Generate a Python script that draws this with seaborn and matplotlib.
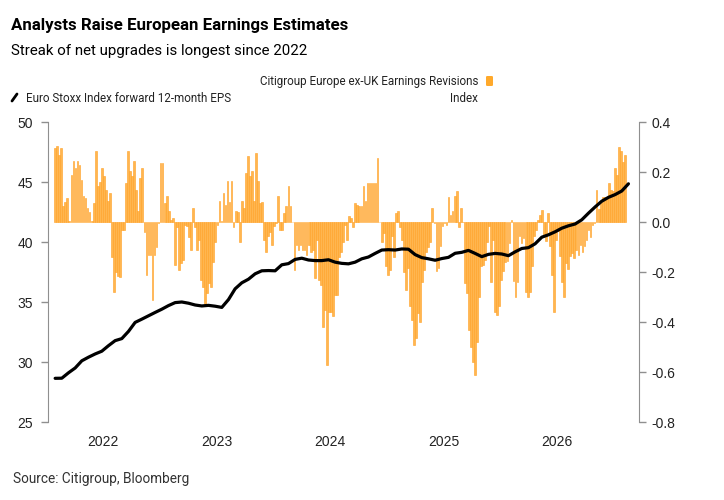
import matplotlib
matplotlib.use("Agg")
import matplotlib.pyplot as plt
import matplotlib.dates as mdates
from matplotlib import font_manager
from matplotlib.lines import Line2D
from matplotlib.patches import FancyBboxPatch
import pandas as pd
import seaborn as sns

# Citigroup Europe ex-UK earnings revisions index (weekly bars, right axis)
revisions = [
    0.295, 0.305, 0.27, 0.295, 0.065, 0.08, 0.095, 0.005, 0.19, 0.245, 0.215, 0.245, 0.23, 0.17,
    0.105, 0.095, 0.055, 0.04, 0.005, 0.075, 0.285, 0.145, 0.16, 0.215, 0.185, 0.13, 0.085, 0.115,
    -0.14, -0.28, -0.2, -0.215, -0.22, -0.03, -0.03,
    0.155, 0.285, 0.205, 0.185, 0.245, 0.13, 0.045, 0.175, 0.215,
    -0.04, -0.21, -0.13, -0.13, -0.31, -0.13, -0.1, -0.005,
    0.235, 0.235, 0.075, 0.105, 0.045, 0.01, 0.015,
    -0.17, -0.02, -0.19, -0.165, -0.15, -0.01, -0.015, -0.06, -0.11,
    0.055, -0.02, -0.11, -0.07, -0.23, -0.26, -0.33, -0.285, -0.245, -0.26, -0.16, -0.08, -0.01,
    0.085, 0.005, 0.115, 0.07, 0.165, 0.08, 0.165, -0.02, 0.045, 0.04, -0.08, 0.085, 0.055, 0.195,
    0.265, 0.185, 0.205, 0.085, 0.275, 0.165, 0.075, 0.08,
    -0.07, -0.12,
    -0.055, -0.04, -0.09, -0.015, -0.005, 0.105, -0.03, -0.03, 0.035, 0.065, 0.145, 0.065, 0.0,
    -0.19, -0.09, -0.11, -0.09, -0.11, -0.11, -0.13, -0.09, -0.12, -0.11, -0.225, -0.07, -0.23,
    -0.25, -0.42, -0.35, -0.57, -0.36, -0.36, -0.375, -0.29, -0.29, -0.14, -0.12, -0.08,
    -0.01, -0.07, 0.025, 0.015, -0.02, 0.075, 0.07, 0.065, 0.065, 0.145, 0.085, 0.155, 0.155, 0.155,
    0.155, 0.155, 0.255, 0.0,
    -0.08, -0.045, -0.175, -0.21, -0.19, -0.055, -0.14, 0.035, 0.045, -0.02, -0.07, -0.2, -0.27,
    -0.185, -0.335, -0.39, -0.49, -0.465, -0.365, -0.4,
    -0.24, -0.19, -0.12, -0.1, -0.08, 0.055, -0.005, -0.195, -0.185, -0.095, -0.015, -0.005, -0.01,
    0.1, 0.03, 0.045, 0.105, 0.125, -0.02, 0.055, 0.0, -0.245, -0.285, -0.43, -0.5, -0.56, -0.61,
    -0.48, -0.3, -0.175, -0.17, -0.15, -0.08, -0.015, -0.24, -0.07,
    -0.36, -0.37, -0.335, -0.23, -0.195, -0.16, -0.155, -0.083, 0.01, -0.235, -0.3, -0.24, -0.055,
    -0.083, -0.063, -0.28, -0.3, -0.28, -0.176, -0.056, -0.03, 0.01, 0.03, 0.05, -0.053, -0.076,
    0.035, -0.096, -0.21, -0.36, -0.07, -0.036, -0.136, -0.24, -0.3,
    -0.163, -0.187, -0.136, -0.123, -0.143, -0.11, -0.13, -0.09, -0.12, -0.096, -0.07, -0.03,
    -0.06, -0.01, -0.005, 0.127, 0.053, 0.077, 0.1, 0.1, 0.1, 0.157, 0.127, 0.125, 0.215, 0.187,
    0.3, 0.285, 0.24, 0.27,
]

# Euro Stoxx forward 12-month EPS (left axis)
eps = [
    28.64, 28.65, 29.1, 29.5, 30.1, 30.4, 30.67, 30.9, 31.36, 31.78, 31.95, 32.55, 33.3, 33.57,
    33.85, 34.13, 34.4, 34.7, 34.95, 35.0, 34.9, 34.75, 34.67, 34.72, 34.65, 34.55, 35.2, 36.1,
    36.6, 36.9, 37.35, 37.6, 37.62, 37.6, 38.1, 38.2, 38.55, 38.65, 38.5, 38.45, 38.45, 38.52,
    38.32, 38.22, 38.18, 38.32, 38.6, 38.75, 39.05, 39.33, 39.36, 39.33, 39.42, 39.4, 38.95, 38.7,
    38.6, 38.48, 38.62, 38.72, 39.06, 39.14, 39.3, 39.05, 38.78, 38.97, 39.05, 39.0, 38.86, 39.18,
    39.46, 39.53, 39.85, 40.4, 40.6, 40.85, 41.15, 41.35, 41.5, 41.85, 42.4, 42.92, 43.4, 43.72,
    43.95, 44.25, 44.85,
]

years = ["2022", "2023", "2024", "2025", "2026"]
eps_ticks = [25, 30, 35, 40, 45, 50]
rev_ticks = [-0.8, -0.6, -0.4, -0.2, 0.0, 0.2, 0.4]

rev_dates = pd.date_range("2021-07-31", "2026-08-07", periods=len(revisions))
eps_dates = pd.date_range("2021-07-31", "2026-08-18", periods=len(eps))

sns.set_style("white")
installed = {f.name for f in font_manager.fontManager.ttflist}
txt_font = "Roboto" if "Roboto" in installed else "Liberation Sans"
plt.rcParams["font.family"] = ["Liberation Sans", "DejaVu Sans"]

W, H = 724, 500
fig = plt.figure(figsize=(W / 100, H / 100), dpi=100)
ax = fig.add_axes([48 / W, 78 / H, 591 / W, 300 / H])
ax2 = ax.twinx()

grey = "#8f8f8f"

# bars: revisions index on the right-hand scale
rev_df = pd.DataFrame({"date": mdates.date2num(rev_dates), "value": revisions})
sns.barplot(data=rev_df, x="date", y="value", native_scale=True, width=0.85,
            color="#FFB650", edgecolor="#FFA022", linewidth=0.4, saturation=1,
            errorbar=None, ax=ax)
ax.set_ylim(-0.8, 0.4)
ax.yaxis.tick_right()
ax.set_yticks(rev_ticks)
ax.set_yticklabels([f"{v:.1f}" for v in rev_ticks])

# line: EPS on the left-hand scale
eps_df = pd.DataFrame({"date": mdates.date2num(eps_dates), "eps": eps})
sns.lineplot(data=eps_df, x="date", y="eps", color="black", linewidth=2.3, ax=ax2)
ax2.set_ylim(25, 50)
ax2.yaxis.tick_left()
ax2.set_yticks(eps_ticks)
ax2.set_yticklabels([str(v) for v in eps_ticks])

ax.set_xlim(mdates.date2num(pd.Timestamp("2021-07-08")), mdates.date2num(pd.Timestamp("2026-09-21")))
ax.set_xticks(mdates.date2num([pd.Timestamp(f"{y}-01-01") for y in years]))
ax.set_xticklabels(years)

for a in (ax, ax2):
    a.set_xlabel("")
    a.set_ylabel("")
    for s in a.spines.values():
        s.set_visible(False)
    a.tick_params(axis="y", direction="out", length=5, width=1, color=grey,
                  labelsize=10, labelcolor="#222222", pad=4)
ax2.tick_params(axis="y", pad=6)
ax.spines["right"].set_visible(True)
ax.spines["right"].set_color(grey)
ax2.spines["left"].set_visible(True)
ax2.spines["left"].set_color(grey)
ax.tick_params(axis="x", length=0, labelsize=10, labelcolor="#222222", pad=9)

# header texts
fig.text(11 / W, 1 - 30 / H, "Analysts Raise European Earnings Estimates",
         fontsize=12.2, fontweight="bold", family=txt_font, color="black", va="baseline")
fig.text(11 / W, 1 - 55 / H, "Streak of net upgrades is longest since 2022",
         fontsize=10.8, family=txt_font, color="black", va="baseline")

# legend
fig.text(478 / W, 1 - 85 / H, "Citigroup Europe ex-UK Earnings Revisions",
         fontsize=8.4, family=txt_font, ha="right", va="baseline", color="#222222")
fig.add_artist(FancyBboxPatch((486 / W, 1 - 86 / H), 7 / W, 10 / H,
                              boxstyle="round,pad=0,rounding_size=0.002",
                              transform=fig.transFigure, facecolor="#FFA92B", edgecolor="none"))
fig.text(478 / W, 1 - 101.5 / H, "Index",
         fontsize=8.4, family=txt_font, ha="right", va="baseline", color="#222222")
fig.add_artist(Line2D([12 / W, 17 / W], [1 - 101 / H, 1 - 94 / H],
                      transform=fig.transFigure, color="black", linewidth=2))
fig.text(26 / W, 1 - 101.5 / H, "Euro Stoxx Index forward 12-month EPS",
         fontsize=8.4, family=txt_font, va="baseline", color="#222222")

fig.text(13 / W, 1 - 483 / H, "Source: Citigroup, Bloomberg",
         fontsize=9.8, family=txt_font, va="baseline", color="#333333")

fig.savefig("out.png", dpi=100)
